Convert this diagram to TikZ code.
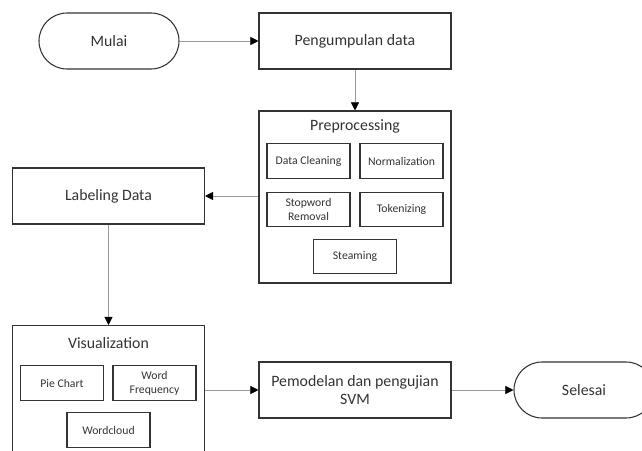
\documentclass[tikz,border=0pt]{standalone}
\usepackage{fontspec}
\setmainfont{Carlito}
\usetikzlibrary{arrows.meta}

\tikzset{
  box/.style={draw=black!80, line width=0.9pt, inner sep=0pt, text=black!80,
    font=\fontsize{13.5}{16}\selectfont, align=center},
  terminal/.style={box, rounded corners=0.84cm, minimum width=4.2cm, minimum height=1.68cm},
  process/.style={box, minimum width=5.76cm, minimum height=1.68cm},
  group/.style={box, minimum width=5.76cm},
  subbox/.style={box, font=\fontsize{10}{12}\selectfont, minimum width=2.49cm, minimum height=1.03cm},
  title/.style={text=black!80, font=\fontsize{13.5}{16}\selectfont},
  flow/.style={draw=black!40, line width=0.7pt, -{Triangle[color=black, length=7pt, width=7pt]}}
}

\begin{document}
\begin{tikzpicture}[x=0.03cm, y=-0.03cm]
\useasboundingbox (0,0) rectangle (642,451);
\clip (0,0) rectangle (642,451);

% top row
\node[terminal] (mulai) at (109,41) {Mulai};
\node[process] (kumpul) at (355,41) {Pengumpulan data};

% preprocessing block
\node[group, minimum height=5.16cm] (prepro) at (355,197) {};
\node[title] (preproT) at (355,126) {Preprocessing};
\node[subbox] (clean) at (308.5,161) {Data Cleaning};
\node[subbox] (norm) at (401.5,161) {Normalization};
\node[subbox] (stop) at (308.5,209.5) {Stopword\\Removal};
\node[subbox] (token) at (401.5,209.5) {Tokenizing};
\node[subbox] (steam) at (355,256.5) {Steaming};

\node[process] (label) at (108.5,196) {Labeling Data};

% visualization block (runs off the bottom)
\node[group, anchor=north, minimum height=4.5cm] (visual) at (108.5,325) {};
\node[title] (visualT) at (108.5,343) {Visualization};
\node[subbox] (pie) at (62,383) {Pie Chart};
\node[subbox] (freq) at (154.5,383) {Word\\Frequency};
\node[subbox] (cloud) at (108.5,430) {Wordcloud};

% bottom row
\node[process] (model) at (355,390) {Pemodelan dan pengujian\\SVM};
\node[terminal] (selesai) at (584,390) {Selesai};

% connectors
\draw[flow] (mulai) -- (kumpul);
\draw[flow] (kumpul) -- (prepro);
\draw[flow] (prepro.west |- label.east) -- (label.east);
\draw[flow] (label) -- (visual);
\draw[flow] (visual.east |- model.west) -- (model.west);
\draw[flow] (model) -- (selesai);
\end{tikzpicture}
\end{document}
